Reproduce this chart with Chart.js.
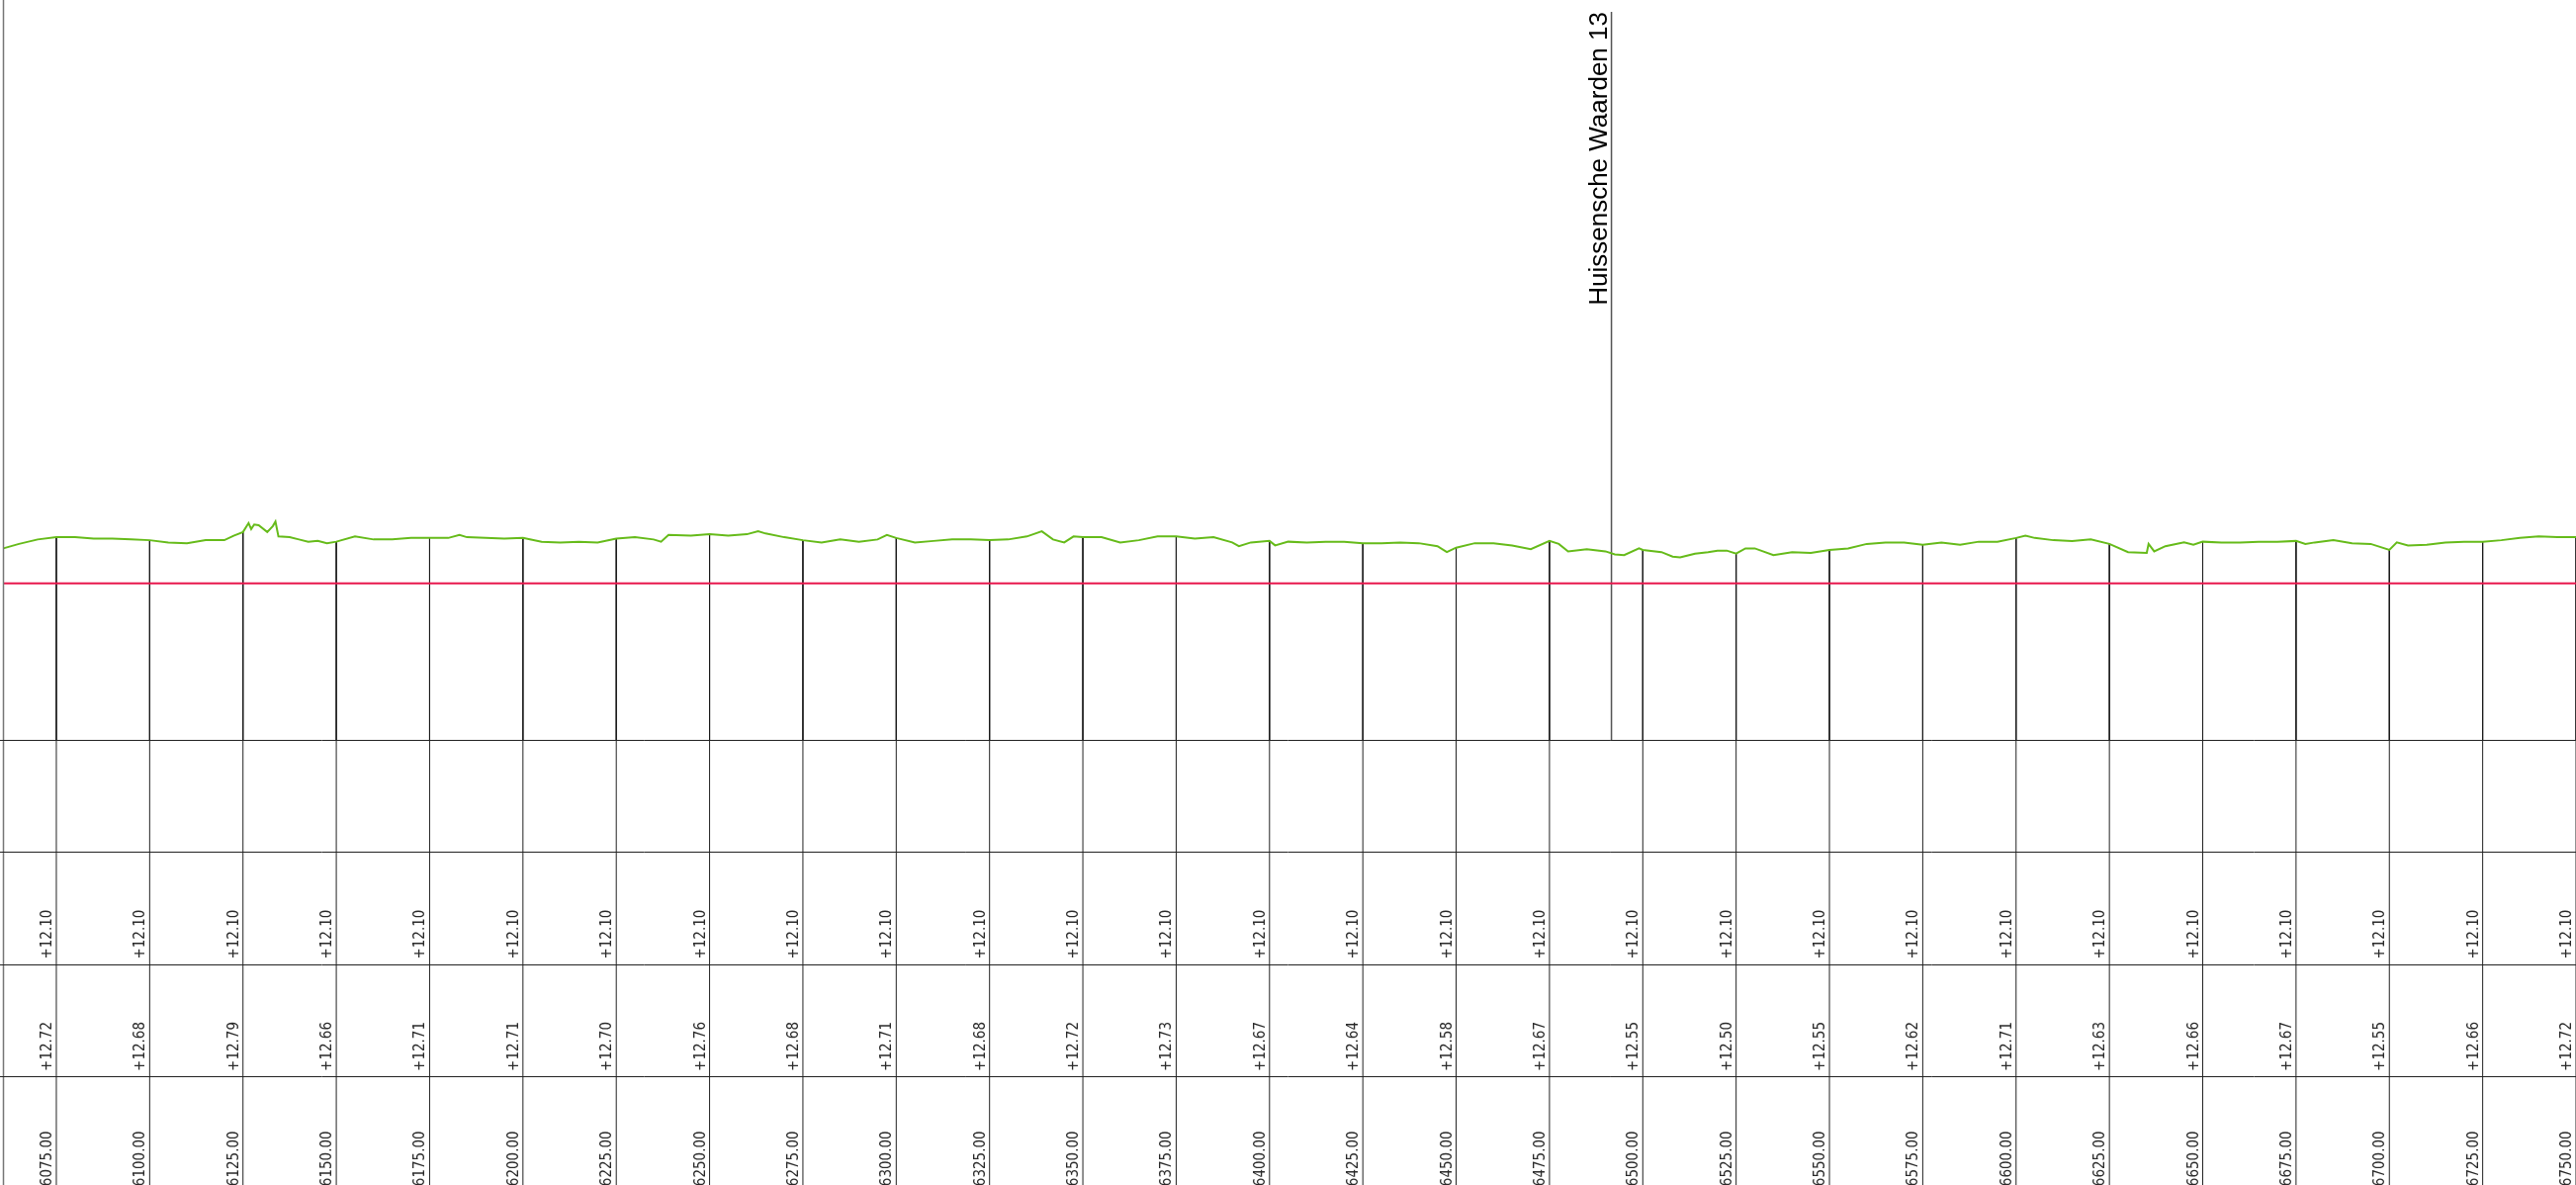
<!DOCTYPE html>
<html>
<head>
    <meta charset="UTF-8">
    <title>Lengteprofiel</title>
    <style>
        html, body { margin: 0; padding: 0; background: #fff; overflow: hidden; }
        canvas { display: block; }
    </style>
    <script src="https://cdn.jsdelivr.net/npm/chart.js@4.4.0/dist/chart.umd.min.js"></script>
</head>
<body>
    <canvas id="profile" width="2605" height="1198"></canvas>

    <script>
        // stations (m) with labels in the table
        const stations = [6075, 6100, 6125, 6150, 6175, 6200, 6225, 6250, 6275, 6300, 6325, 6350, 6375, 6400,
                          6425, 6450, 6475, 6500, 6525, 6550, 6575, 6600, 6625, 6650, 6675, 6700, 6725, 6750];
        // ground level at each station (second table row)
        const stationLevels = [12.72, 12.68, 12.79, 12.66, 12.71, 12.71, 12.70, 12.76, 12.68, 12.71, 12.68, 12.72, 12.73, 12.67,
                               12.64, 12.58, 12.67, 12.55, 12.50, 12.55, 12.62, 12.71, 12.63, 12.66, 12.67, 12.55, 12.66, 12.72];
        // reference level (red line, first table row)
        const referenceLevel = 12.10;

        // measured ground profile (green line)
        const groundStations = [
            6060.8, 6065, 6070, 6075, 6080, 6085, 6090, 6095, 6100, 6105, 6110, 6115, 6120, 6122.5,
            6125, 6126.5, 6127.2, 6128, 6129.2, 6131.5, 6133, 6133.7, 6134.5, 6137.5, 6140, 6142.5, 6145, 6147.5,
            6150, 6155, 6160, 6165, 6170, 6175, 6180, 6183, 6185, 6190, 6195, 6200, 6205, 6210, 6215, 6220,
            6225, 6230, 6235, 6237, 6239, 6245, 6250, 6255, 6260, 6263, 6265, 6270, 6275, 6280, 6285, 6290,
            6295, 6297.5, 6300, 6305, 6310, 6315, 6320, 6325, 6330, 6335, 6339, 6342, 6345, 6347.5, 6350,
            6355, 6360, 6365, 6370, 6375, 6380, 6385, 6390, 6391.8, 6395, 6400, 6401.5, 6405, 6410, 6415,
            6420, 6425, 6430, 6435, 6440, 6445, 6447.5, 6450, 6455, 6460, 6465, 6470, 6475, 6477.5, 6480,
            6485, 6490, 6492.5, 6495, 6499, 6500, 6505, 6508, 6510, 6514, 6517.5, 6520, 6522.5, 6525, 6527.5,
            6530, 6535, 6540, 6545, 6550, 6555, 6560, 6565, 6570, 6575, 6580, 6585, 6590, 6595, 6600, 6602.5,
            6605, 6610, 6615, 6620, 6625, 6630, 6635, 6635.5, 6637, 6640, 6645, 6647.5, 6650, 6655, 6660,
            6665, 6670, 6675, 6677.5, 6680, 6685, 6690, 6695, 6700, 6702, 6705, 6710, 6715, 6720, 6725,
            6730, 6735, 6740, 6745, 6750
        ];
        const groundLevels = [
            12.57, 12.63, 12.69, 12.72, 12.72, 12.70, 12.70, 12.69, 12.68, 12.65, 12.64, 12.68, 12.68, 12.74,
            12.79, 12.91, 12.83, 12.89, 12.88, 12.79, 12.87, 12.93, 12.73, 12.72, 12.69, 12.66, 12.67, 12.64,
            12.66, 12.73, 12.69, 12.69, 12.71, 12.71, 12.71, 12.75, 12.72, 12.71, 12.70, 12.71, 12.66, 12.65, 12.66, 12.65,
            12.70, 12.72, 12.69, 12.66, 12.75, 12.74, 12.76, 12.74, 12.76, 12.80, 12.77, 12.72, 12.68, 12.65, 12.69, 12.66,
            12.69, 12.75, 12.71, 12.65, 12.67, 12.69, 12.69, 12.68, 12.69, 12.73, 12.80, 12.69, 12.65, 12.73, 12.72,
            12.72, 12.65, 12.68, 12.73, 12.73, 12.70, 12.72, 12.65, 12.60, 12.65, 12.67, 12.61, 12.66, 12.65, 12.66,
            12.66, 12.64, 12.64, 12.65, 12.64, 12.60, 12.52, 12.58, 12.64, 12.64, 12.61, 12.56, 12.67, 12.63, 12.53,
            12.56, 12.53, 12.49, 12.48, 12.57, 12.55, 12.52, 12.46, 12.45, 12.50, 12.52, 12.54, 12.54, 12.50, 12.57,
            12.57, 12.48, 12.52, 12.51, 12.55, 12.57, 12.63, 12.65, 12.65, 12.62, 12.65, 12.62, 12.66, 12.66, 12.71, 12.74,
            12.71, 12.68, 12.67, 12.69, 12.63, 12.52, 12.51, 12.63, 12.53, 12.60, 12.65, 12.62, 12.66, 12.65, 12.65,
            12.66, 12.66, 12.67, 12.63, 12.65, 12.68, 12.64, 12.63, 12.55, 12.65, 12.61, 12.62, 12.65, 12.66, 12.66,
            12.68, 12.71, 12.73, 12.72, 12.72
        ];

        // kilometre marker
        const markerLabel = 'Huissensche Waarden 13';
        const markerStation = 6491.6;
        const markerTop = 19.77;

        const xMin = 6060.7, xMax = 6750;
        const yMin = 10, yMax = 19.93;

        const groundData = groundStations.map((s, i) => ({ x: s, y: groundLevels[i] }));

        // vertical station lines from ground down to the bottom of the profile
        const stationLineData = [];
        stations.forEach((s, i) => {
            stationLineData.push({ x: s, y: stationLevels[i] });
            stationLineData.push({ x: s, y: yMin });
            stationLineData.push({ x: s, y: null });
        });

        const tablePlugin = {
            id: 'tablePlugin',
            afterDraw(chart) {
                const ctx = chart.ctx;
                const area = chart.chartArea;
                const xs = chart.scales.x;
                const ys = chart.scales.y;
                const W = chart.width, H = chart.height;
                const rowH = 113.3;
                const top = area.bottom;
                const rows = [top + rowH, top + 2 * rowH, top + 3 * rowH];

                ctx.save();
                // left border
                ctx.strokeStyle = '#777';
                ctx.lineWidth = 1.5;
                ctx.beginPath();
                ctx.moveTo(3.5, 0);
                ctx.lineTo(3.5, H);
                ctx.stroke();

                // horizontal table lines
                ctx.strokeStyle = '#222';
                ctx.lineWidth = 1;
                [top].concat(rows).forEach(y => {
                    ctx.beginPath();
                    ctx.moveTo(0, Math.round(y) + 0.5);
                    ctx.lineTo(W, Math.round(y) + 0.5);
                    ctx.stroke();
                });

                // vertical lines through the table
                stations.forEach(s => {
                    const px = xs.getPixelForValue(s);
                    ctx.beginPath();
                    ctx.moveTo(px, top);
                    ctx.lineTo(px, H);
                    ctx.stroke();
                });

                // table texts
                ctx.fillStyle = '#2a2a2a';
                ctx.font = "15px 'DejaVu Sans Condensed', 'DejaVu Sans'";
                ctx.fontStretch = 'condensed';
                ctx.textAlign = 'left';
                ctx.textBaseline = 'alphabetic';
                const drawUp = (text, px, bottomY) => {
                    ctx.save();
                    ctx.translate(px - 5, bottomY - 5);
                    ctx.rotate(-Math.PI / 2);
                    ctx.fillText(text, 0, 0);
                    ctx.restore();
                };
                stations.forEach((s, i) => {
                    const px = xs.getPixelForValue(s);
                    drawUp('+' + referenceLevel.toFixed(2), px, rows[1]);
                    drawUp('+' + stationLevels[i].toFixed(2), px, rows[2]);
                    drawUp(s.toFixed(2), px, rows[2] + rowH + 3);
                });

                // marker label
                const mx = xs.getPixelForValue(markerStation);
                const my = ys.getPixelForValue(markerTop);
                ctx.fontStretch = 'normal';
                ctx.fillStyle = '#000';
                ctx.font = "26px 'Liberation Sans'";
                ctx.save();
                ctx.translate(mx - 5, my);
                ctx.rotate(-Math.PI / 2);
                ctx.textAlign = 'right';
                ctx.fillText(markerLabel, 0, 0);
                ctx.restore();
                ctx.restore();
            }
        };

        new Chart(document.getElementById('profile'), {
            type: 'line',
            data: {
                datasets: [
                    {
                        label: 'Maaiveld',
                        data: groundData,
                        borderColor: '#66bb1a',
                        borderWidth: 2,
                        pointRadius: 0,
                        tension: 0
                    },
                    {
                        label: 'Referentie',
                        data: [{ x: xMin, y: referenceLevel }, { x: xMax, y: referenceLevel }],
                        borderColor: '#e8174d',
                        borderWidth: 2,
                        pointRadius: 0
                    },
                    {
                        label: 'Stations',
                        data: stationLineData,
                        borderColor: '#1a1a1a',
                        borderWidth: 1,
                        pointRadius: 0,
                        spanGaps: false
                    },
                    {
                        label: 'Marker',
                        data: [{ x: markerStation, y: markerTop }, { x: markerStation, y: yMin }],
                        borderColor: '#555',
                        borderWidth: 1.5,
                        pointRadius: 0
                    }
                ]
            },
            options: {
                responsive: false,
                animation: false,
                devicePixelRatio: 1,
                layout: { padding: { left: 3, right: 0, top: 0, bottom: 450 } },
                plugins: {
                    legend: { display: false },
                    tooltip: { enabled: false }
                },
                scales: {
                    x: { type: 'linear', min: xMin, max: xMax, display: false },
                    y: { type: 'linear', min: yMin, max: yMax, display: false }
                }
            },
            plugins: [tablePlugin]
        });
    </script>
</body>
</html>
